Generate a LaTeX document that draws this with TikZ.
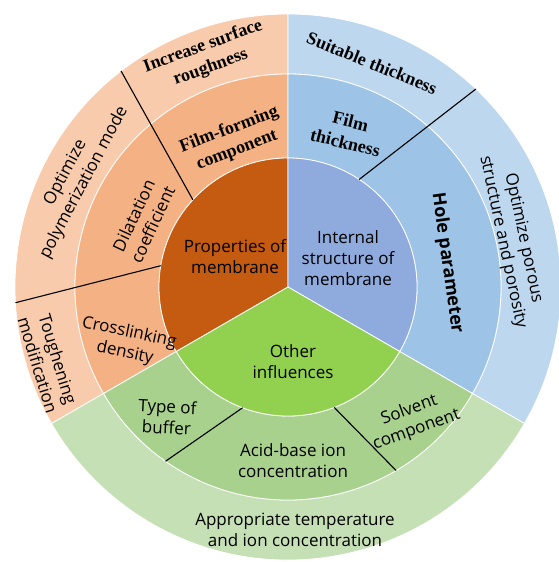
\documentclass[tikz,border=0pt]{standalone}
\usepackage{fontspec}
\setmainfont{Liberation Serif}
\setsansfont{Open Sans}
\definecolor{orA}{HTML}{C55A11}
\definecolor{orB}{HTML}{F4B183}
\definecolor{orC}{HTML}{F8CBAD}
\definecolor{blA}{HTML}{8FAADC}
\definecolor{blB}{HTML}{9DC3E6}
\definecolor{blC}{HTML}{BDD7EE}
\definecolor{grA}{HTML}{92D050}
\definecolor{grB}{HTML}{A9D18E}
\definecolor{grC}{HTML}{C5E0B4}
\tikzset{
  ring/.style={draw=white,line width=.8pt},
  cut/.style={line width=1.1pt},
  sans/.style={font=\sffamily\fontsize{17}{21}\selectfont,align=center,inner sep=0pt},
  serif/.style={font=\bfseries\fontsize{18}{22}\selectfont,align=center,inner sep=0pt}
}
\begin{document}
\begin{tikzpicture}[x=1pt,y=1pt]
\useasboundingbox (-288,-275) rectangle (271,287);
\foreach \a/\b/\ci/\cm/\co in {90/210/orA/orB/orC,-30/90/blA/blB/blC,210/330/grA/grB/grC}{
  \draw[ring,fill=\co] (\a:213) arc (\a:\b:213)--(\b:273) arc (\b:\a:273)--cycle;
  \draw[ring,fill=\cm] (\a:129) arc (\a:\b:129)--(\b:213) arc (\b:\a:213)--cycle;
  \draw[ring,fill=\ci] (0,0)--(\a:129) arc (\a:\b:129)--cycle;
}
\draw[cut] (137.5:129)--(127.7:273);
\draw[cut] (170.5:129)--(183.3:273);
\draw[cut] (56.5:129)--(46.5:273);
\draw[cut] (249.4:129)--(234.9:213);
\draw[cut] (291:129)--(300.5:213);
% inner pie
\node[sans] (props) at (-53,30) {Properties of\\membrane};
\node[sans] (inner) at (60,29) {Internal\\structure of\\membrane};
\node[sans] (other) at (5,-75) {Other\\influences};
% orange
\node[serif,rotate=21] (filmform) at (-55,147) {Film-forming\\component};
\node[serif,rotate=20] (rough) at (-81,230) {Increase surface\\roughness};
\node[sans,rotate=62] (polym) at (-213,109) {Optimize\\polymerization mode};
\node[sans,rotate=65] (dilat) at (-145,67) {Dilatation\\coefficient};
\node[sans,rotate=-12] (cross) at (-161,-56) {Crosslinking\\density};
\node[sans,rotate=-73] (tough) at (-240,-75) {Toughening\\modification};
% blue
\node[serif,rotate=-14] (filmthick) at (60,155) {Film\\thickness};
\node[serif,rotate=-22] (suit) at (84,224) {Suitable thickness};
\node[sans,font=\sffamily\bfseries\fontsize{18}{22}\selectfont,rotate=-82] (hole) at (159,24) {Hole parameter};
\node[sans,rotate=-78] (porous) at (225,47) {Optimize porous\\structure and porosity};
% green
\node[sans,rotate=-3] (buffer) at (-121,-130) {Type of\\buffer};
\node[sans] (acid) at (5,-174) {Acid-base ion\\concentration};
\node[sans,rotate=20] (solvent) at (125,-133) {Solvent\\component};
\node[sans] (temp) at (7,-243) {Appropriate temperature\\and ion concentration};
\end{tikzpicture}
\end{document}
